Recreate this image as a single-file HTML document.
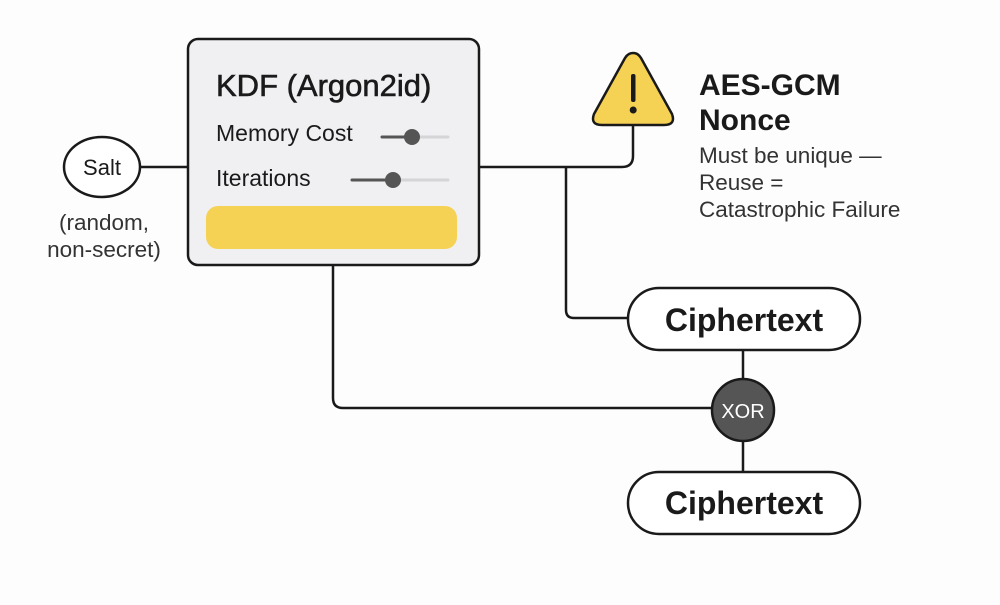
<!DOCTYPE html>
<html><head><style>body{margin:0;background:#fdfdfd}</style></head><body>
<svg width="1000" height="600" viewBox="0 0 1000 600" xmlns="http://www.w3.org/2000/svg" font-family="Liberation Sans, sans-serif">
<rect width="1000" height="600" fill="#fdfdfd"/>
<g fill="none" stroke="#1a1a1a" stroke-width="2.5">
<line x1="140" y1="167" x2="187" y2="167"/>
<path d="M480 167 H622 Q633 167 633 156 V125"/>
<path d="M566 167 V310 Q566 318 574 318 H628"/>
<path d="M333 265 V398 Q333 408 343 408 H712"/>
<line x1="743" y1="350" x2="743" y2="379"/>
<line x1="743" y1="441" x2="743" y2="472"/>
</g>
<ellipse cx="102" cy="167" rx="38" ry="30" fill="#fff" stroke="#1a1a1a" stroke-width="2.5"/>
<text x="102" y="175" font-size="22" text-anchor="middle" fill="#1a1a1a">Salt</text>
<text x="104" y="230" font-size="22.5" text-anchor="middle" fill="#333">(random,</text>
<text x="104" y="257" font-size="22.5" text-anchor="middle" fill="#333">non-secret)</text>
<rect x="188" y="39" width="291" height="226" rx="10" fill="#f0f0f3" stroke="#1a1a1a" stroke-width="2.5"/>
<text x="216" y="96" font-size="31" fill="#1a1a1a" stroke="#1a1a1a" stroke-width="0.6">KDF (Argon2id)</text>
<text x="216" y="141" font-size="23" fill="#1a1a1a">Memory Cost</text>
<text x="216" y="186" font-size="23" fill="#1a1a1a">Iterations</text>
<line x1="382" y1="137" x2="448" y2="137" stroke="#d5d5d8" stroke-width="3" stroke-linecap="round"/>
<line x1="382" y1="137" x2="412" y2="137" stroke="#555" stroke-width="3" stroke-linecap="round"/>
<circle cx="412" cy="137" r="8" fill="#555"/>
<line x1="352" y1="180" x2="448" y2="180" stroke="#d5d5d8" stroke-width="3" stroke-linecap="round"/>
<line x1="352" y1="180" x2="393" y2="180" stroke="#555" stroke-width="3" stroke-linecap="round"/>
<circle cx="393" cy="180" r="8" fill="#555"/>
<rect x="206" y="206" width="251" height="43" rx="12" fill="#f5d154"/>
<path d="M633 53 Q638 53 641 58 L672 114 Q676 125 664 125 L602 125 Q590 125 594 114 L625 58 Q628 53 633 53 Z" fill="#f5d154" stroke="#1a1a1a" stroke-width="2.5"/>
<rect x="631" y="74" width="4.5" height="28" rx="2" fill="#1a1a1a"/>
<circle cx="633.2" cy="110" r="3.5" fill="#1a1a1a"/>
<text x="699" y="95" font-size="30" font-weight="bold" fill="#1a1a1a">AES-GCM</text>
<text x="699" y="130" font-size="30" font-weight="bold" fill="#1a1a1a">Nonce</text>
<text x="699" y="163" font-size="22.5" fill="#333">Must be unique —</text>
<text x="699" y="190" font-size="22.5" fill="#333">Reuse =</text>
<text x="699" y="217" font-size="22.5" fill="#333">Catastrophic Failure</text>
<rect x="628" y="288" width="232" height="62" rx="31" fill="#fff" stroke="#1a1a1a" stroke-width="2.5"/>
<text x="744" y="331" font-size="32" font-weight="bold" text-anchor="middle" fill="#1a1a1a">Ciphertext</text>
<circle cx="743" cy="410" r="31" fill="#555" stroke="#1a1a1a" stroke-width="2.5"/>
<text x="743" y="418" font-size="20" text-anchor="middle" fill="#fff">XOR</text>
<rect x="628" y="472" width="232" height="62" rx="31" fill="#fff" stroke="#1a1a1a" stroke-width="2.5"/>
<text x="744" y="514" font-size="32" font-weight="bold" text-anchor="middle" fill="#1a1a1a">Ciphertext</text>
</svg>
</body></html>
